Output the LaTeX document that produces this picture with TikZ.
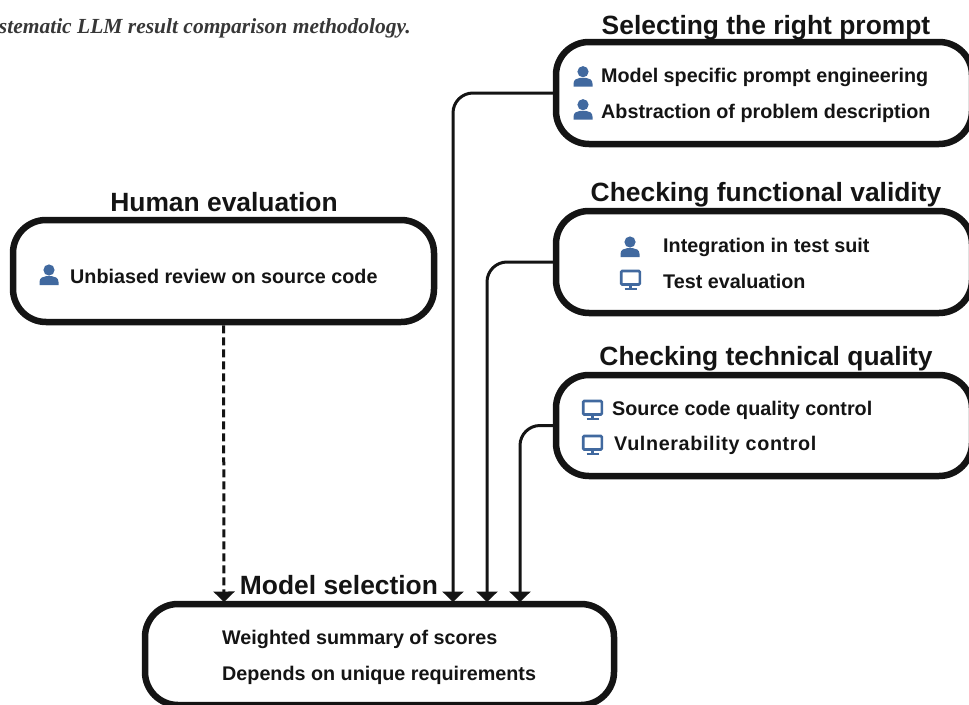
\documentclass[tikz,border=0pt]{standalone}
\usepackage{fontspec}
\setmainfont{Liberation Sans}
\newfontfamily\capfont{Liberation Serif}
\usetikzlibrary{arrows.meta}
\definecolor{ink}{HTML}{141414}
\definecolor{iconblue}{HTML}{41699F}
\tikzset{
  x=1pt,y=-1pt,
  panel/.style={draw=ink,line width=6.5pt,rounded corners=33pt,fill=white,inner sep=0pt},
  heading/.style={font=\bfseries\fontsize{26.4}{28}\selectfont,text=ink,inner sep=0pt,text height=18.5pt,text depth=5.5pt},
  item/.style={font=\bfseries\fontsize{19.75}{24}\selectfont,text=ink,inner sep=0pt,anchor=west,text height=14.5pt,text depth=4pt},
  conn/.style={draw=ink,line width=3pt,rounded corners=20pt,-{Triangle[width=21pt,length=10.5pt]}},
  dconn/.style={draw=ink,line width=3pt,dash pattern=on 8pt off 4pt,-{Triangle[width=21pt,length=10.5pt]}},
  person/.pic={
    \fill[iconblue] (0,-4) circle[radius=5.6];
    \fill[iconblue] (-9.5,11) -- (-9.5,8) .. controls (-9.5,4) and (-6,2.2) .. (-3,2.2) -- (3,2.2) .. controls (6,2.2) and (9.5,4) .. (9.5,8) -- (9.5,11) -- cycle;
  },
  monitor/.pic={
    \draw[iconblue,line width=2.6pt,rounded corners=1pt] (-9.3,-8) rectangle (9.3,5.5);
    \draw[iconblue,line width=2.6pt] (0,5.5) -- (0,9);
    \draw[iconblue,line width=2.4pt] (-6,9.8) -- (6,9.8);
  }
}
\begin{document}
\begin{tikzpicture}
\useasboundingbox (0,0) rectangle (969,704);
\node[font=\capfont\bfseries\itshape\fontsize{21.5}{24}\selectfont,text=ink!85,anchor=east,inner sep=0pt] (cap) at (411,28) {stematic LLM result comparison methodology.};
% panels
\node[panel,minimum width=416pt,minimum height=102pt] (p1) at (764,93) {};
\node[panel,minimum width=416pt,minimum height=102pt] (p2) at (764,262) {};
\node[panel,minimum width=416pt,minimum height=101pt] (p3) at (764,425.5) {};
\node[panel,minimum width=421pt,minimum height=102pt] (human) at (223.5,271) {};
\node[panel,minimum width=469pt,minimum height=101pt] (model) at (379.5,654.5) {};
% targets on the model panel
\coordinate (t0) at (224,602);
\coordinate (t1) at (453,602);
\coordinate (t2) at (487,602);
\coordinate (t3) at (520,602);
% connectors
\draw[conn] (p1.west) -| (t1);
\draw[conn] (p2.west) -| (t2);
\draw[conn] (p3.west) -| (t3);
\draw[dconn] (human.south) -- (t0);
% headings
\node[heading] (h1) at (766,27.5) {Selecting the right prompt};
\node[heading] (h2) at (766,195) {Checking functional validity};
\node[heading] (h3) at (766,359) {Checking technical quality};
\node[heading] (h4) at (224,205) {Human evaluation};
\node[heading] (h5) at (339,588) {Model selection};
% items
\node[item] (a1) at (601,77) {Model specific prompt engineering};
\node[item] (a2) at (601,113) {Abstraction of problem description};
\node[item] (b1) at (663,247) {Integration in test suit};
\node[item] (b2) at (663,283) {Test evaluation};
\node[item] (c1) at (612,410) {Source code quality control};
\node[item,font=\bfseries\fontsize{19.75}{24}\selectfont\addfontfeature{LetterSpace=3.2}] (c2) at (614,445) {Vulnerability control};
\node[item] (d1) at (70,278) {Unbiased review on source code};
\node[item] (e1) at (222,639) {Weighted summary of scores};
\node[item] (e2) at (222,675) {Depends on unique requirements};
% icons
\pic at (583,75.7) {person};
\pic at (583,108.7) {person};
\pic at (630,246) {person};
\pic at (630.5,279) {monitor};
\pic at (592.5,409) {monitor};
\pic at (592.5,444) {monitor};
\pic at (49,274) {person};
\end{tikzpicture}
\end{document}
